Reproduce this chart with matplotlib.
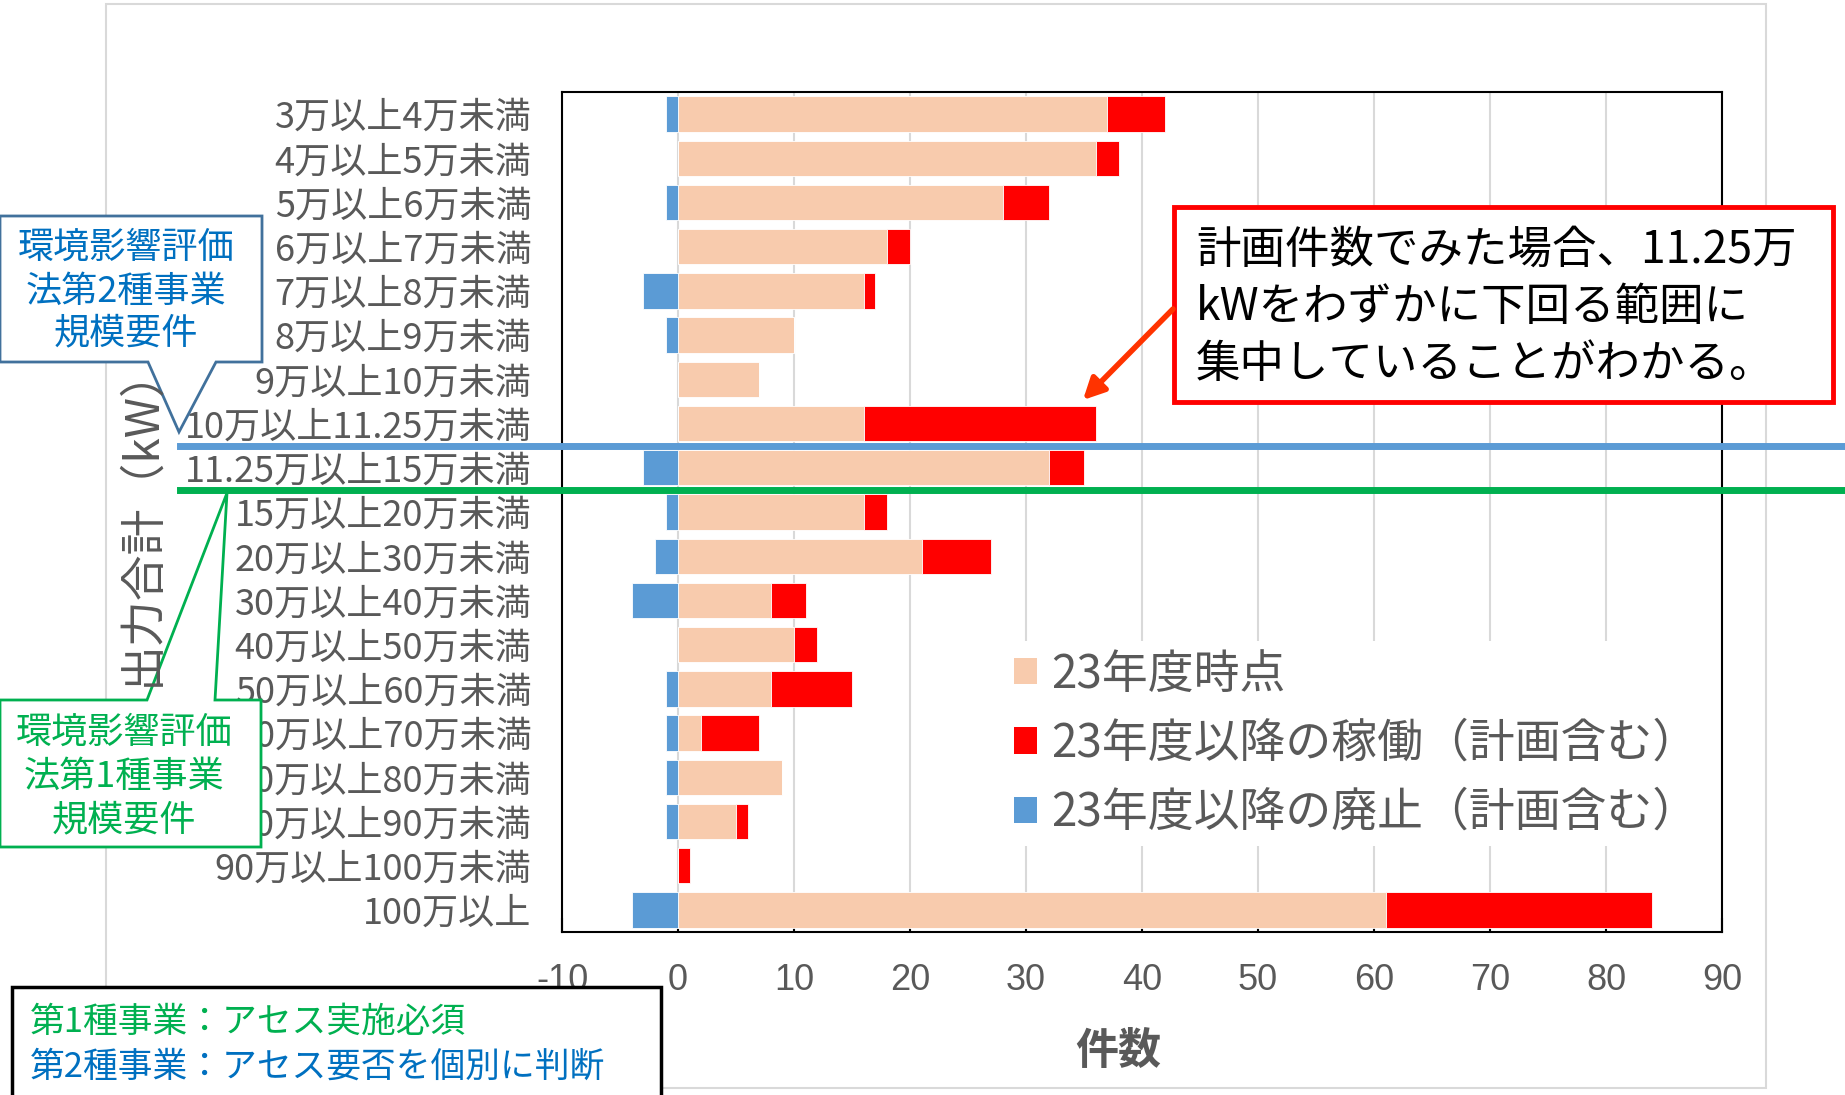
import numpy as np
import matplotlib
matplotlib.use("Agg")
import matplotlib.pyplot as plt
from matplotlib.patches import Patch, Rectangle, Polygon, FancyArrowPatch
from matplotlib.lines import Line2D
from matplotlib.transforms import blended_transform_factory

plt.rcParams['font.family'] = ['Noto Sans CJK JP', 'DejaVu Sans']
plt.rcParams['axes.unicode_minus'] = False

###############################################################################
# Data
###############################################################################
categories = ["3万以上4万未満", "4万以上5万未満", "5万以上6万未満", "6万以上7万未満",
              "7万以上8万未満", "8万以上9万未満", "9万以上10万未満", "10万以上11.25万未満",
              "11.25万以上15万未満", "15万以上20万未満", "20万以上30万未満", "30万以上40万未満",
              "40万以上50万未満", "50万以上60万未満", "60万以上70万未満", "70万以上80万未満",
              "80万以上90万未満", "90万以上100万未満", "100万以上"]
base_fy23 = [37, 36, 28, 18, 16, 10, 7, 16, 32, 16, 21, 8, 10, 8, 2, 9, 5, 0, 61]
added     = [5, 2, 4, 2, 1, 0, 0, 20, 3, 2, 6, 3, 2, 7, 5, 0, 1, 1, 23]
retired   = [-1, 0, -1, 0, -3, -1, 0, 0, -3, -1, -2, -4, 0, -1, -1, -1, -1, 0, -4]
legend_labels = ["23年度時点", "23年度以降の稼働（計画含む）", "23年度以降の廃止（計画含む）"]
x_ticks = list(range(-10, 100, 10))

c_base, c_add, c_ret = "#F8CBAD", "#FF0000", "#5B9BD5"
gray = "#595959"

W, H = 1845, 1095
fig = plt.figure(figsize=(W / 100, H / 100), dpi=100)

def fx(px):
    return px / W

def fy(py):
    return 1 - py / H

# outer chart frame (light gray)
fig.add_artist(Rectangle((fx(106), fy(1088)), fx(1766) - fx(106), fy(4) - fy(1088),
                         transform=fig.transFigure, fill=False, edgecolor="#D9D9D9", lw=1.5))

ax = fig.add_axes([fx(562), fy(932), fx(1722) - fx(562), fy(92) - fy(932)])
y = np.arange(len(categories))

ax.barh(y, base_fy23, height=0.8, color=c_base, edgecolor="white", linewidth=0.6, zorder=3)
ax.barh(y, added, left=base_fy23, height=0.8, color=c_add, edgecolor="white", linewidth=0.6, zorder=3)
ax.barh(y, retired, height=0.8, color=c_ret, edgecolor="white", linewidth=0.6, zorder=3)

ax.set_xlim(-10, 90)
ax.set_ylim(len(categories) - 0.5, -0.5)
ax.set_xticks(x_ticks)
ax.set_yticks(y)
ax.set_yticklabels(categories, fontsize=26, color=gray)
ax.tick_params(axis="y", length=0, pad=22)
ax.tick_params(axis="x", direction="in", length=10, width=1.5, labelsize=26,
               labelcolor=gray, pad=22)
for t in ax.get_xticklabels():
    t.set_fontfamily(["Liberation Sans", "DejaVu Sans"])
ax.xaxis.grid(True, color="#D9D9D9", lw=1.5, zorder=0)
ax.set_axisbelow(True)
for s in ax.spines.values():
    s.set_color("black")
    s.set_linewidth(1.5)

# legend
handles = [Patch(facecolor=c) for c in (c_base, c_add, c_ret)]
leg = ax.legend(handles, legend_labels, loc="upper left",
                bbox_to_anchor=(fx(982), fy(618)), bbox_transform=fig.transFigure,
                fontsize=33, frameon=True, facecolor="white", edgecolor="none",
                framealpha=1, handlelength=0.5, handleheight=0.5, handletextpad=0.3,
                labelspacing=0.45, borderpad=0.2)
for t in leg.get_texts():
    t.set_color(gray)

# axis labels
fig.text(fx(141), fy(516), "出力合計（kW）", rotation=90, ha="center", va="center",
         fontsize=33, color=gray)
fig.text(fx(1118), fy(1051), "件数", ha="center", va="center", fontsize=31,
         color=gray, fontweight="bold")

# threshold lines across the chart
tr = blended_transform_factory(fig.transFigure, ax.transData)
fig.add_artist(Line2D([fx(180), 1.0], [7.5, 7.5], transform=tr, color="#5B9BD5", lw=5))
fig.add_artist(Line2D([fx(180), 1.0], [8.5, 8.5], transform=tr, color="#00B050", lw=5))

# callout: second-class project
blue_pts = [(0, 216), (262, 216), (262, 362), (216, 362), (179, 432), (148, 362), (0, 362)]
fig.add_artist(Polygon([(fx(a), fy(b)) for a, b in blue_pts], closed=True,
                       transform=fig.transFigure, facecolor="white", edgecolor="#41719C", lw=2))
for txt, yy in zip(["環境影響評価", "法第2種事業", "規模要件"], [248, 292, 333]):
    fig.text(fx(126), fy(yy), txt, ha="center", va="center", fontsize=26, color="#0070C0")

# callout: first-class project
green_pts = [(0, 700), (147, 700), (227, 493), (215, 700), (261, 700), (261, 847), (0, 847)]
fig.add_artist(Polygon([(fx(a), fy(b)) for a, b in green_pts], closed=True,
                       transform=fig.transFigure, facecolor="white", edgecolor="#00B050", lw=2))
for txt, yy in zip(["環境影響評価", "法第1種事業", "規模要件"], [733, 777, 820]):
    fig.text(fx(124), fy(yy), txt, ha="center", va="center", fontsize=26, color="#00B050")

# red comment box + arrow
fig.add_artist(Rectangle((fx(1174), fy(402)), fx(1833) - fx(1174), fy(207) - fy(402),
                         transform=fig.transFigure, facecolor="white", edgecolor="#FF0000", lw=3.5))
for txt, yy in zip(["計画件数でみた場合、11.25万", "kWをわずかに下回る範囲に", "集中していることがわかる。"],
                   [250, 307, 364]):
    fig.text(fx(1196), fy(yy), txt, ha="left", va="center", fontsize=32, color="black")
fig.add_artist(FancyArrowPatch((fx(1175), fy(307)), (fx(1081), fy(402)), transform=fig.transFigure,
                               arrowstyle="-|>", mutation_scale=32, color="#FF3300", lw=4))

# bottom-left note box
fig.add_artist(Rectangle((fx(12), fy(1100)), fx(661) - fx(12), fy(987) - fy(1100),
                         transform=fig.transFigure, facecolor="white", edgecolor="black", lw=2.5,
                         clip_on=False))
fig.text(fx(30), fy(1022), "第1種事業：アセス実施必須", ha="left", va="center", fontsize=25,
         color="#00B050")
fig.text(fx(30), fy(1067), "第2種事業：アセス要否を個別に判断", ha="left", va="center", fontsize=25,
         color="#0070C0")

fig.savefig("out.png", dpi=100)
